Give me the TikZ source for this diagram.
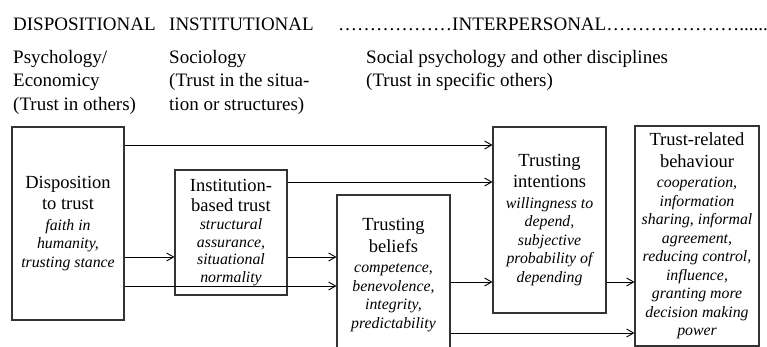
\documentclass[tikz,border=0pt]{standalone}
\usepackage{fontspec}
\setmainfont{Liberation Serif}
\usepackage{tikz}
\usetikzlibrary{arrows.meta}
\newcommand{\headfont}{\fontsize{19}{23.5}\selectfont}
\newcommand{\titlefont}{\fontsize{18.5}{21.5}\selectfont\upshape}
\newcommand{\descfont}{\fontsize{15.8}{18.5}\selectfont\itshape}
\tikzset{
  stagebox/.style={draw=black!80, line width=1.1pt, align=center, inner sep=0pt, font=\descfont},
  headtext/.style={anchor=base west, inner sep=0pt, align=left, font=\headfont},
  link/.style={line width=0.9pt, -{Straight Barb[length=7pt,width=8pt]}}
}
\begin{document}
\begin{tikzpicture}[x=1pt,y=1pt]
\useasboundingbox (0,0) rectangle (767,-347);
\node [headtext] (dispo) at (13,-30.7) {DISPOSITIONAL};
\node [headtext] (insti) at (169,-30.7) {INSTITUTIONAL};
\node [headtext] (inter) at (338,-30.7) {\dots\dots\dots\dots\dots\dots INTERPERSONAL\dots\dots\dots\dots\dots\dots\dots......};
\node [headtext] (psych) at (13,-110.5) {Psychology/\\Economicy\\(Trust in others)};
\node [headtext] (socio) at (169,-110.5) {Sociology\\(Trust in the situa-\\tion or structures)};
\node [headtext] (socps) at (366,-86.8) {Social psychology and other disciplines\\(Trust in specific others)};
\node [stagebox, minimum width=112, minimum height=193] (disp) at (68,-223.5)
  {{\titlefont Disposition}\\[3pt] {\titlefont to trust}\\[2pt] faith in\\ humanity,\\ trusting stance};
\node [stagebox, minimum width=112, minimum height=125] (inst) at (231,-232.5)
  {{\titlefont Institution-}\\[1pt] {\titlefont based trust}\\[0pt] structural\\[-1pt] assurance,\\[-1pt] situational\\[-1pt] normality};
\node [stagebox, minimum width=113, minimum height=160] (beli) at (393.5,-275)
  {{\titlefont Trusting}\\[3pt] {\titlefont beliefs}\\[2pt] competence,\\ benevolence,\\ integrity,\\ predictability};
\node [stagebox, minimum width=113, minimum height=186] (inte) at (549.5,-220)
  {{\titlefont Trusting}\\[3pt] {\titlefont intentions}\\[2pt] willingness to\\ depend,\\ subjective\\ probability of\\ depending};
\node [stagebox, minimum width=124, minimum height=220] (beha) at (697,-236)
  {{\titlefont Trust-related}\\[3pt] {\titlefont behaviour}\\[2pt] cooperation,\\ information\\ sharing, informal\\ agreement,\\ reducing control,\\ influence,\\ granting more\\ decision making\\ power};
\draw [link] (disp.east |- 0,-145) -- (inte.west |- 0,-145);
\draw [link] (inst.east |- 0,-182) -- (inte.west |- 0,-182);
\draw [link] (disp.east |- 0,-257) -- (inst.west |- 0,-257);
\draw [link] (inst.east |- 0,-257) -- (beli.west |- 0,-257);
\draw [link] (disp.east |- 0,-286) -- (beli.west |- 0,-286);
\draw [link] (beli.east |- 0,-282) -- (inte.west |- 0,-282);
\draw [link] (inte.east |- 0,-282) -- (beha.west |- 0,-282);
\draw [link] (beli.east |- 0,-333) -- (beha.west |- 0,-333);
\end{tikzpicture}
\end{document}
